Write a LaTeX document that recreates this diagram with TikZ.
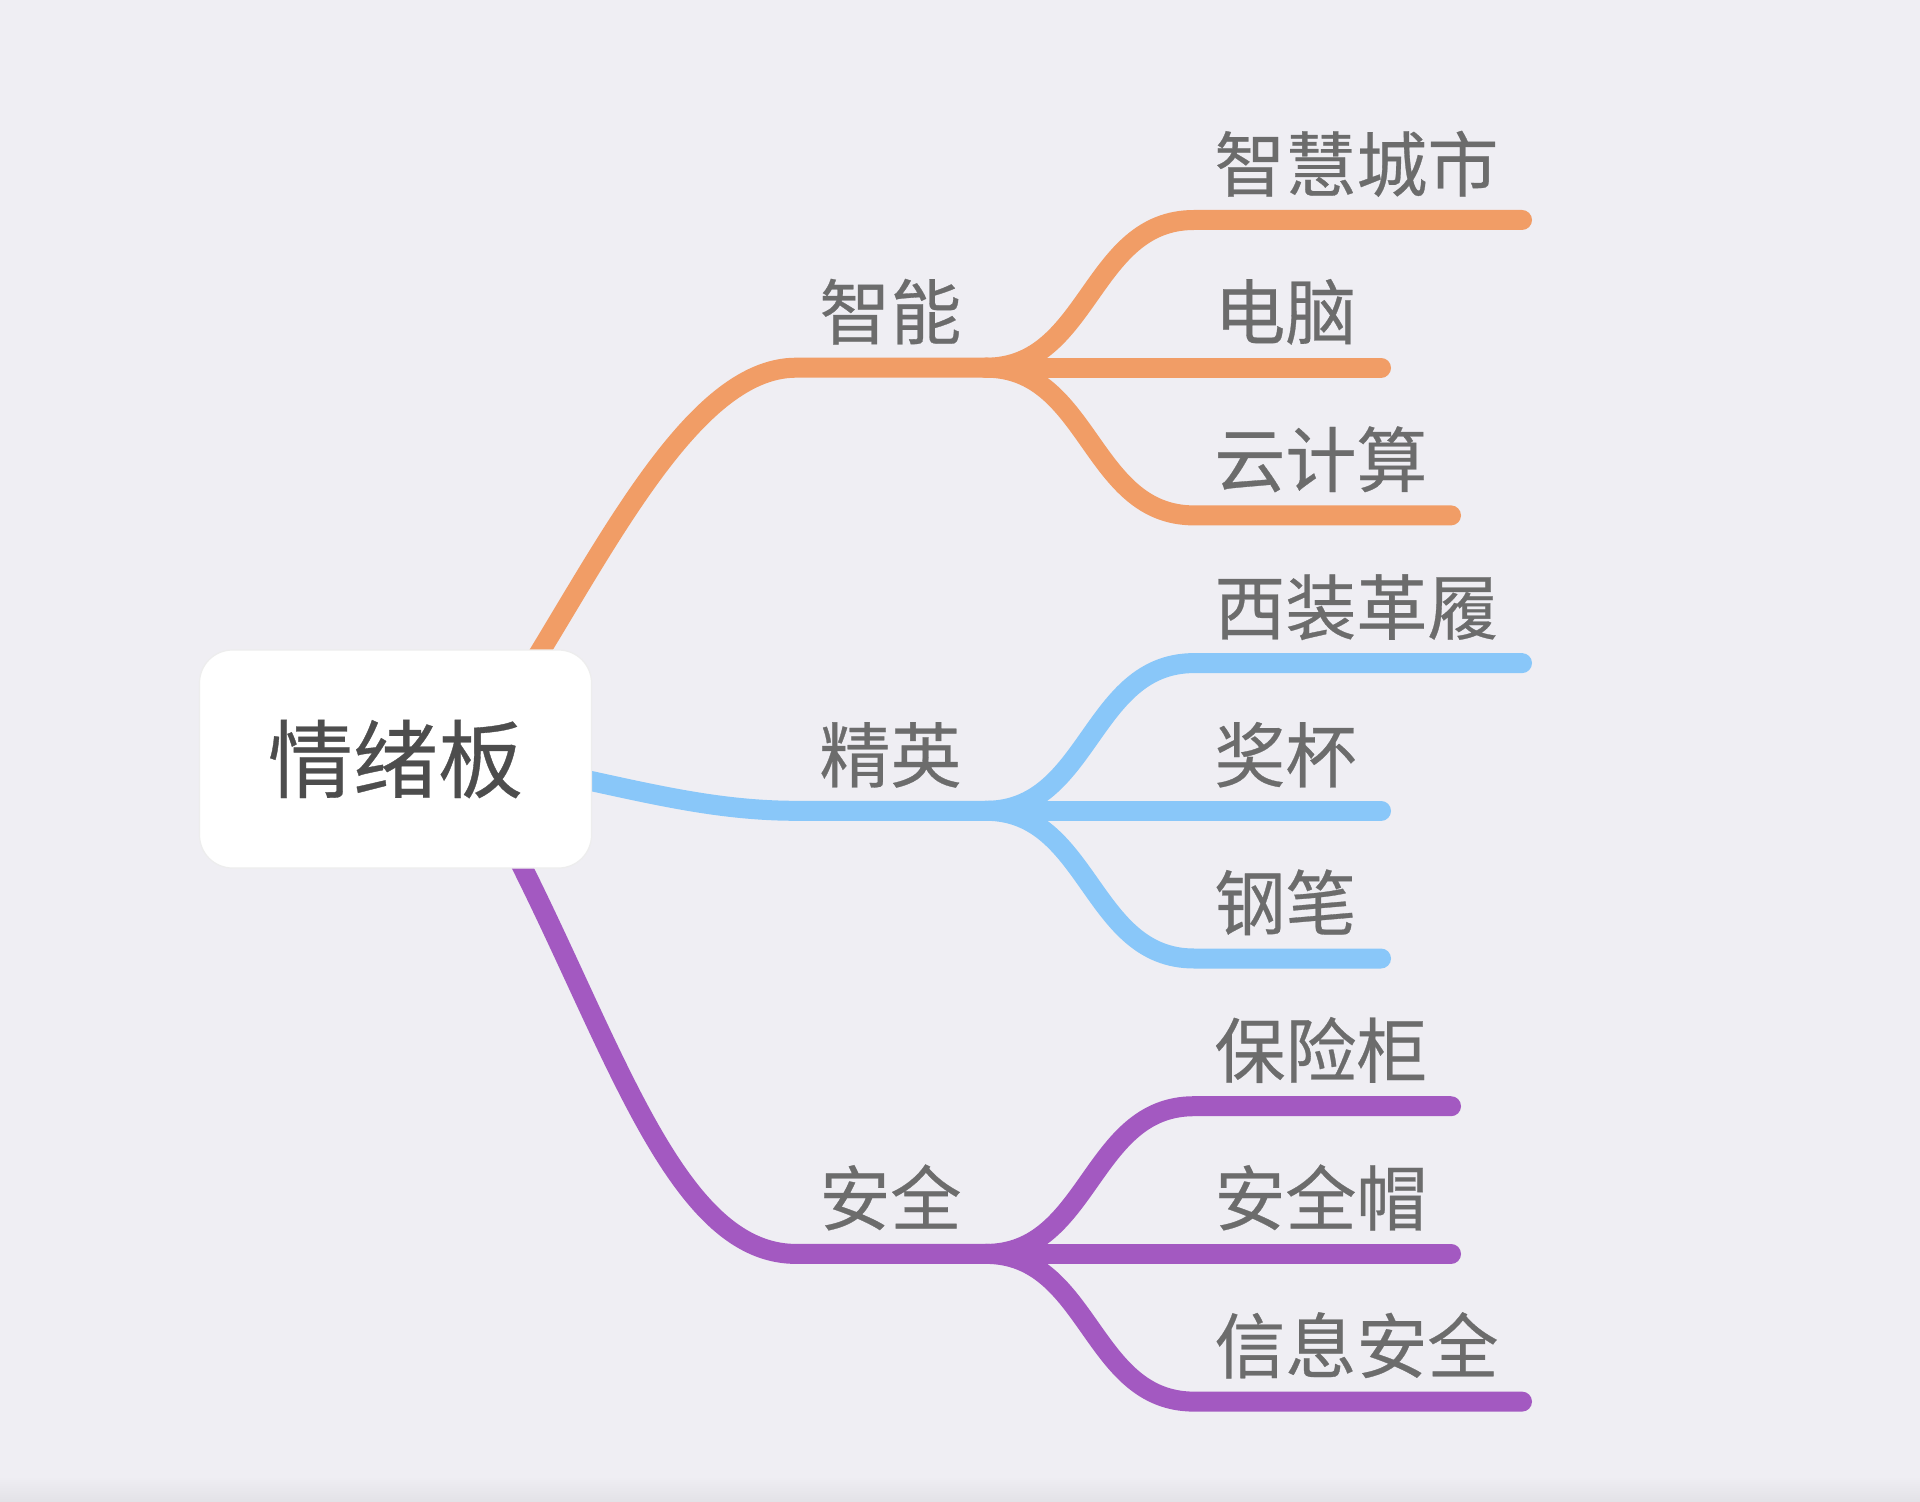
\documentclass[tikz,border=0pt]{standalone}
\usepackage{fontspec}
\newfontfamily\cjk{Noto Sans CJK SC}[FakeBold=0.4]
\definecolor{bg}{RGB}{239,238,243}
\definecolor{bgdark}{RGB}{227,226,231}
\definecolor{orangeb}{RGB}{241,157,102}
\definecolor{blueb}{RGB}{137,199,249}
\definecolor{purpleb}{RGB}{163,89,193}
\definecolor{labelgray}{RGB}{108,108,108}
\definecolor{rootgray}{RGB}{77,77,77}
\tikzset{
  branch/.style={line width=10pt, line cap=round},
  lbl/.style={anchor=west, inner sep=0pt, text=labelgray,
    font=\cjk\fontsize{35.5pt}{36pt}\selectfont, text height=27pt, text depth=0pt},
  rootbox/.style={rectangle, rounded corners=16.5pt, fill=white, draw=white!93!black,
    line width=0.6pt, minimum width=196pt, minimum height=109pt, inner sep=0pt,
    text=rootgray, font=\cjk\fontsize{42.5pt}{43pt}\selectfont, text height=32.3pt, text depth=0pt},
}
\begin{document}
\begin{tikzpicture}[x=0.5pt,y=-0.5pt]
\useasboundingbox (0,0) rectangle (1920,1502);
\fill[bg] (0,0) rectangle (1920,1502);
\shade[top color=bg, bottom color=bgdark] (0,1476) rectangle (1920,1502);

% branch start points (hidden behind root) and forks
\coordinate (o0) at (510,700);  \coordinate (o1) at (796,367.7); \coordinate (of) at (986,367.7);
\coordinate (b0) at (500,762);  \coordinate (b1) at (796,810.8); \coordinate (bf) at (986,810.8);
\coordinate (p0) at (470,770);  \coordinate (p1) at (796,1253.9); \coordinate (pf) at (986,1253.9);

% main branches
\draw[branch, orangeb] (o0) .. controls (600,560) and (690,367.7) .. (o1) -- (of);
\draw[branch, blueb]   (b0) .. controls (620,785) and (700,810.8) .. (b1) -- (bf);
\draw[branch, purpleb] (p0) .. controls (600,990) and (660,1253.9) .. (p1) -- (pf);

% sub-branches: fork, y0, y1, end x, colour
\foreach \n/\f/\ya/\yb/\xe/\c in {
  oa/of/367.7/220/1522/orangeb, ob/of/367.7/367.7/1381/orangeb, oc/of/367.7/515.4/1451/orangeb,
  ba/bf/810.8/663.1/1522/blueb, bb/bf/810.8/810.8/1381/blueb, bc/bf/810.8/958.5/1381/blueb,
  pa/pf/1253.9/1106.2/1451/purpleb, pb/pf/1253.9/1253.9/1451/purpleb, pc/pf/1253.9/1401.6/1522/purpleb}{
  \coordinate (\n s) at (1194,\yb);
  \coordinate (\n e) at (\xe,\yb);
  \draw[branch, \c] (\f) .. controls (1090,\ya) and (1090,\yb) .. (\n s) -- (\n e);
}

% root
\node[rootbox] (root) at (395.5,759) {情绪板};

% main labels
\node[lbl] (lo) at (819,311.7) {智能};
\node[lbl] (lb) at (819,754.8) {精英};
\node[lbl] (lp) at (819,1197.9) {安全};

% sub labels
\node[lbl] (la1) at (1214,164) {智慧城市};
\node[lbl] (la2) at (1214,311.7) {电脑};
\node[lbl] (la3) at (1214,459.4) {云计算};
\node[lbl] (lb1) at (1214,607.1) {西装革履};
\node[lbl] (lb2) at (1214,754.8) {奖杯};
\node[lbl] (lb3) at (1214,902.5) {钢笔};
\node[lbl] (lc1) at (1214,1050.2) {保险柜};
\node[lbl] (lc2) at (1214,1197.9) {安全帽};
\node[lbl] (lc3) at (1214,1345.6) {信息安全};
\end{tikzpicture}
\end{document}
